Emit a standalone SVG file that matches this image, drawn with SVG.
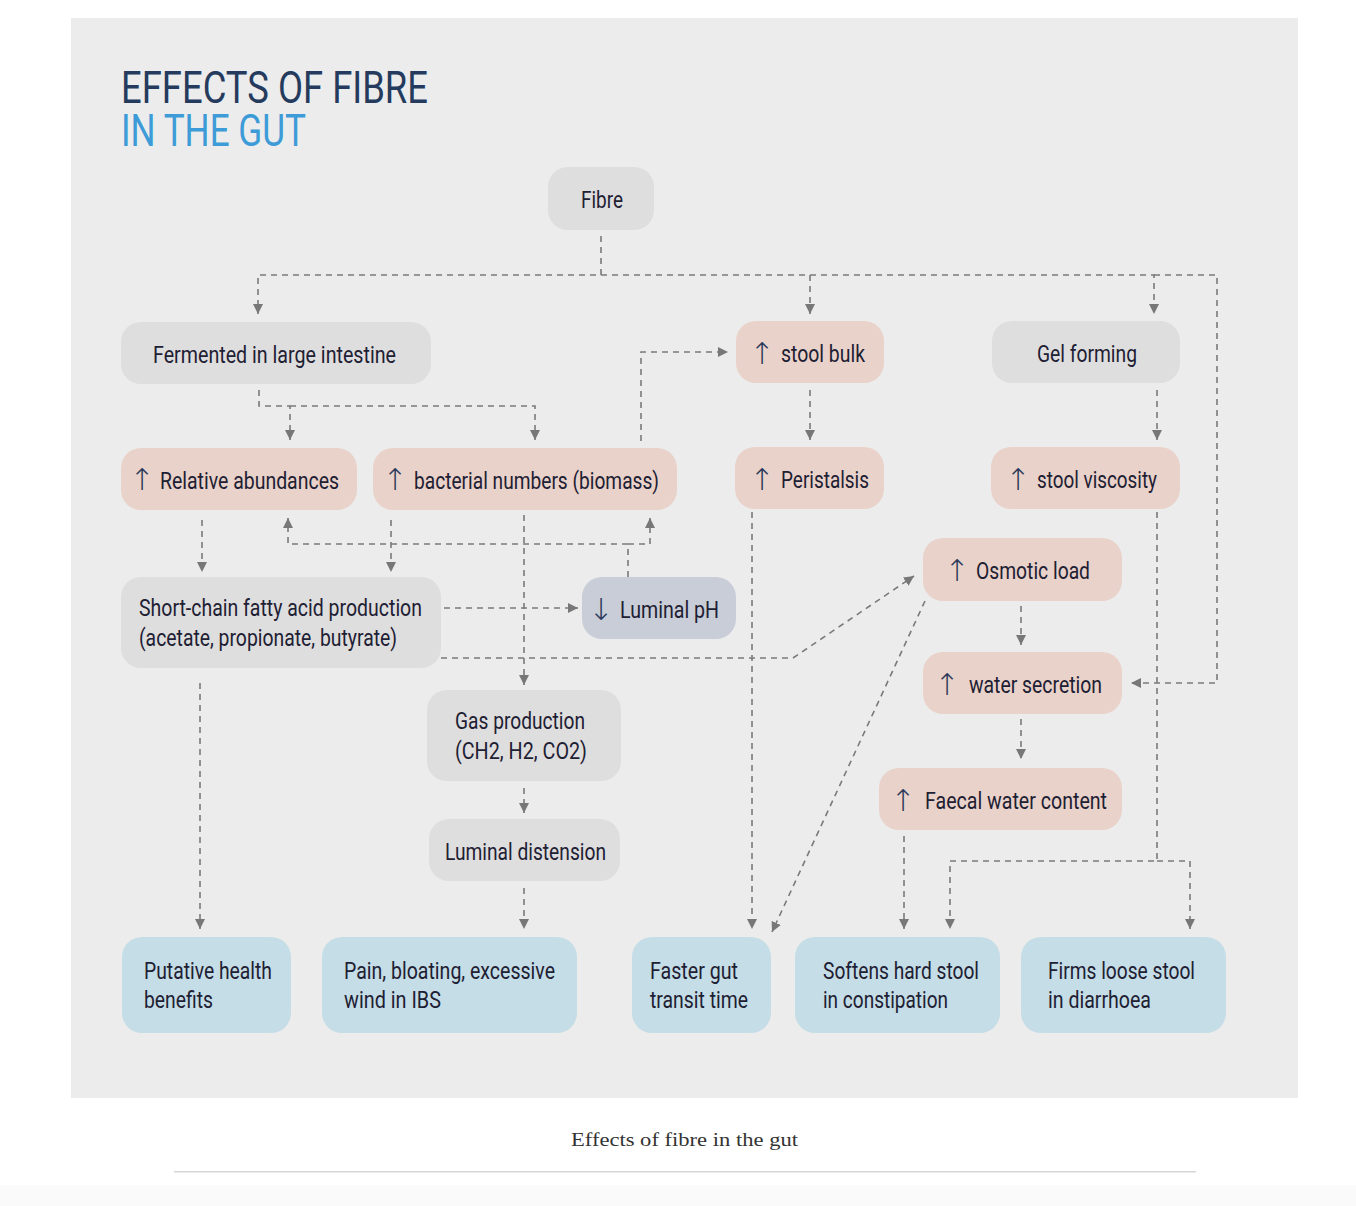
<svg xmlns="http://www.w3.org/2000/svg" width="1356" height="1206" viewBox="0 0 1356 1206">
<style>
.bg{fill:#ececec}
.g{fill:#dedede}
.p{fill:#e9d2c9}
.b{fill:#c5dde6}
.ph{fill:#c8cdd7}
.t{font-family:Roboto,"Liberation Sans",sans-serif;font-size:23px;fill:#1e2033}
.a{font-family:"DejaVu Sans",sans-serif;font-weight:200;font-size:30px;fill:#2c3a5c;text-anchor:middle}
.c{fill:none;stroke:#7a7a7a;stroke-width:1.6;stroke-dasharray:6 5}
.title{font-family:Roboto,"Liberation Sans",sans-serif;font-size:44px}
.cap{font-family:"Liberation Serif","DejaVu Serif",serif;font-size:19px;fill:#333}
</style>
<defs>
<marker id="ah" markerUnits="userSpaceOnUse" markerWidth="11" markerHeight="10" refX="10" refY="5" orient="auto">
<path d="M0,0 L10,5 L0,10 z" fill="#777"/>
</marker>
</defs>
<rect width="1356" height="1206" fill="#ffffff"/>
<rect x="0" y="1185" width="1356" height="21" fill="#fafafa"/>
<rect class="bg" x="71" y="18" width="1227" height="1080"/>
<text class="title" x="121" y="103" fill="#253b5e" textLength="307" lengthAdjust="spacingAndGlyphs">EFFECTS OF FIBRE</text>
<text class="title" x="121" y="146" fill="#3d9bd7" textLength="185" lengthAdjust="spacingAndGlyphs">IN THE GUT</text>

<g id="connectors">
<path class="c" d="M601,236 V275 H258 V314" marker-end="url(#ah)"/>
<path class="c" d="M601,275 H810 V314" marker-end="url(#ah)"/>
<path class="c" d="M810,275 H1154 V314" marker-end="url(#ah)"/>
<path class="c" d="M1154,275 H1217 V683 H1131" marker-end="url(#ah)"/>
<path class="c" d="M259,390 V406 H290 V440" marker-end="url(#ah)"/>
<path class="c" d="M290,406 H535 V440" marker-end="url(#ah)"/>
<path class="c" d="M641,441 V352 H728" marker-end="url(#ah)"/>
<path class="c" d="M810,390 V440" marker-end="url(#ah)"/>
<path class="c" d="M1157,390 V440" marker-end="url(#ah)"/>
<path class="c" d="M202,520 V572" marker-end="url(#ah)"/>
<path class="c" d="M391,520 V572" marker-end="url(#ah)"/>
<path class="c" d="M628,577 V544 H288 V518" marker-end="url(#ah)"/>
<path class="c" d="M628,544 H650 V518" marker-end="url(#ah)"/>
<path class="c" d="M524,515 V685" marker-end="url(#ah)"/>
<path class="c" d="M444,608 H578" marker-end="url(#ah)"/>
<path class="c" d="M441,658 H793 L914,576" marker-end="url(#ah)"/>
<path class="c" d="M200,683 V929" marker-end="url(#ah)"/>
<path class="c" d="M524,788 V813" marker-end="url(#ah)"/>
<path class="c" d="M524,888 V929" marker-end="url(#ah)"/>
<path class="c" d="M752,512 V929" marker-end="url(#ah)"/>
<path class="c" d="M925,601 L772,932" marker-end="url(#ah)"/>
<path class="c" d="M1021,606 V645" marker-end="url(#ah)"/>
<path class="c" d="M1021,719 V759" marker-end="url(#ah)"/>
<path class="c" d="M904,836 V929" marker-end="url(#ah)"/>
<path class="c" d="M1157,512 V861 H950 V929" marker-end="url(#ah)"/>
<path class="c" d="M1157,861 H1190 V929" marker-end="url(#ah)"/>
</g>

<g id="fibre"><rect class="g" x="548" y="167" width="106" height="63" rx="20"/>
<text class="t" x="581" y="208" textLength="42" lengthAdjust="spacingAndGlyphs">Fibre</text></g>

<g id="fermented"><rect class="g" x="121" y="322" width="310" height="62" rx="20"/>
<text class="t" x="153" y="363" textLength="243" lengthAdjust="spacingAndGlyphs">Fermented in large intestine</text></g>

<g id="stool-bulk"><rect class="p" x="736" y="321" width="148" height="62" rx="20"/>
<text class="a" x="762" y="364">↑</text>
<text class="t" x="781" y="362" textLength="84" lengthAdjust="spacingAndGlyphs">stool bulk</text></g>

<g id="gel-forming"><rect class="g" x="992" y="321" width="188" height="62" rx="20"/>
<text class="t" x="1037" y="362" textLength="100" lengthAdjust="spacingAndGlyphs">Gel forming</text></g>

<g id="relative-abundances"><rect class="p" x="121" y="448" width="236" height="62" rx="20"/>
<text class="a" x="142" y="490">↑</text>
<text class="t" x="160" y="489" textLength="179" lengthAdjust="spacingAndGlyphs">Relative abundances</text></g>

<g id="bacterial-numbers"><rect class="p" x="373" y="448" width="304" height="62" rx="20"/>
<text class="a" x="395" y="490">↑</text>
<text class="t" x="414" y="489" textLength="245" lengthAdjust="spacingAndGlyphs">bacterial numbers (biomass)</text></g>

<g id="peristalsis"><rect class="p" x="735" y="447" width="149" height="62" rx="20"/>
<text class="a" x="762" y="490">↑</text>
<text class="t" x="781" y="488" textLength="88" lengthAdjust="spacingAndGlyphs">Peristalsis</text></g>

<g id="stool-viscosity"><rect class="p" x="991" y="447" width="189" height="62" rx="20"/>
<text class="a" x="1018" y="490">↑</text>
<text class="t" x="1037" y="488" textLength="120" lengthAdjust="spacingAndGlyphs">stool viscosity</text></g>

<g id="scfa"><rect class="g" x="121" y="577" width="320" height="91" rx="20"/>
<text class="t" x="139" y="616" textLength="283" lengthAdjust="spacingAndGlyphs">Short-chain fatty acid production</text>
<text class="t" x="139" y="646" textLength="258" lengthAdjust="spacingAndGlyphs">(acetate, propionate, butyrate)</text></g>

<g id="luminal-ph"><rect class="ph" x="582" y="577" width="154" height="62" rx="20"/>
<text class="a" x="601" y="620">↓</text>
<text class="t" x="620" y="618" textLength="99" lengthAdjust="spacingAndGlyphs">Luminal pH</text></g>

<g id="osmotic-load"><rect class="p" x="923" y="538" width="199" height="63" rx="20"/>
<text class="a" x="957" y="581">↑</text>
<text class="t" x="976" y="579" textLength="114" lengthAdjust="spacingAndGlyphs">Osmotic load</text></g>

<g id="water-secretion"><rect class="p" x="923" y="652" width="199" height="62" rx="20"/>
<text class="a" x="947" y="695">↑</text>
<text class="t" x="969" y="693" textLength="133" lengthAdjust="spacingAndGlyphs">water secretion</text></g>

<g id="faecal-water"><rect class="p" x="879" y="768" width="243" height="62" rx="20"/>
<text class="a" x="903" y="811">↑</text>
<text class="t" x="925" y="809" textLength="182" lengthAdjust="spacingAndGlyphs">Faecal water content</text></g>

<g id="gas-production"><rect class="g" x="427" y="690" width="194" height="91" rx="20"/>
<text class="t" x="455" y="729" textLength="130" lengthAdjust="spacingAndGlyphs">Gas production</text>
<text class="t" x="455" y="759" textLength="132" lengthAdjust="spacingAndGlyphs">(CH2, H2, CO2)</text></g>

<g id="luminal-distension"><rect class="g" x="429" y="819" width="191" height="62" rx="20"/>
<text class="t" x="445" y="860" textLength="161" lengthAdjust="spacingAndGlyphs">Luminal distension</text></g>

<g id="putative"><rect class="b" x="122" y="937" width="169" height="96" rx="20"/>
<text class="t" x="144" y="979" textLength="128" lengthAdjust="spacingAndGlyphs">Putative health</text>
<text class="t" x="144" y="1008" textLength="69" lengthAdjust="spacingAndGlyphs">benefits</text></g>

<g id="pain"><rect class="b" x="322" y="937" width="255" height="96" rx="20"/>
<text class="t" x="344" y="979" textLength="211" lengthAdjust="spacingAndGlyphs">Pain, bloating, excessive</text>
<text class="t" x="344" y="1008" textLength="97" lengthAdjust="spacingAndGlyphs">wind in IBS</text></g>

<g id="faster-transit"><rect class="b" x="632" y="937" width="139" height="96" rx="20"/>
<text class="t" x="650" y="979" textLength="88" lengthAdjust="spacingAndGlyphs">Faster gut</text>
<text class="t" x="650" y="1008" textLength="98" lengthAdjust="spacingAndGlyphs">transit time</text></g>

<g id="softens"><rect class="b" x="795" y="937" width="205" height="96" rx="20"/>
<text class="t" x="823" y="979" textLength="156" lengthAdjust="spacingAndGlyphs">Softens hard stool</text>
<text class="t" x="823" y="1008" textLength="125" lengthAdjust="spacingAndGlyphs">in constipation</text></g>

<g id="firms"><rect class="b" x="1021" y="937" width="205" height="96" rx="20"/>
<text class="t" x="1048" y="979" textLength="147" lengthAdjust="spacingAndGlyphs">Firms loose stool</text>
<text class="t" x="1048" y="1008" textLength="103" lengthAdjust="spacingAndGlyphs">in diarrhoea</text></g>

<text class="cap" x="571" y="1146" textLength="227" lengthAdjust="spacingAndGlyphs">Effects of fibre in the gut</text>
<rect x="174" y="1171" width="1022" height="1.5" fill="#d6d6d6"/>
</svg>
